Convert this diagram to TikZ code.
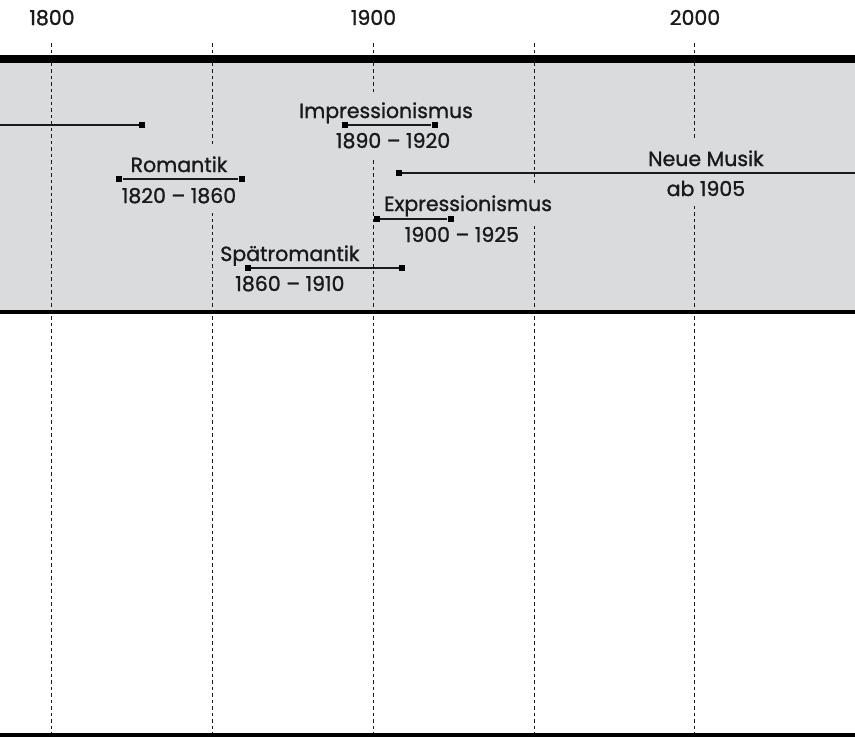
\documentclass[tikz,border=0pt]{standalone}
\usepackage{fontspec}
\setmainfont{Poppins}[UprightFeatures={FakeBold=1.2}]
\definecolor{band}{RGB}{218,219,221}
\definecolor{ink}{RGB}{26,26,26}

\begin{document}
\begin{tikzpicture}[
    x=3.215pt, y=-1pt,
    label/.style={anchor=base, text=ink, inner xsep=5pt, inner ysep=10pt, font=\fontsize{20.5}{25}\selectfont},
    era/.style={label, fill=band},
    grid/.style={draw=ink, line width=1pt, dash pattern=on 3.5pt off 3pt},
    endmark/.style={fill=black, minimum size=6pt, inner sep=0pt},
    span/.style={draw=ink, line width=1.3pt}
]
\useasboundingbox (-16.17,0) rectangle (249.77,736);

% band and rules
\fill[band] (-16.17,63) rectangle (249.77,311);

\node[label] (y1800) at (0,25) {1800};
\node[label] (y1900) at (100,25) {1900};
\node[label] (y2000) at (200,25) {2000};

\coordinate (g1800) at (0,43);
\coordinate (g1850) at (50,43);
\coordinate (g1900) at (100,43);
\coordinate (g1950) at (150,43);
\coordinate (g2000) at (200,43);

\draw[grid] (g1800) -- ++(0,700);
\draw[grid] (g1850) -- ++(0,700);
\draw[grid] (g1900) -- ++(0,700);
\draw[grid] (g1950) -- ++(0,700);
\draw[grid] (g2000) -- ++(0,700);

\draw[line width=8pt] (-17,59) -- (251,59);
\draw[line width=3.5pt] (-17,311.8) -- (251,311.8);
\draw[line width=7pt] (-17,736) -- (251,736);

% era labels
\node[era] (roman) at (39.5,172) {Romantik};
\node[era] (romand) at (39.5,203) {1820 -- 1860};

\node[era] (impr) at (103.9,118) {Impressionismus};
\node[era] (imprd) at (106.1,148) {1890 -- 1920};

\node[era] (expr) at (129.4,211) {Expressionismus};
\node[era] (exprd) at (127.5,242) {1900 -- 1925};

\node[era] (spaet) at (74,261) {Spätromantik};
\node[era] (spaetd) at (74,291) {1860 -- 1910};

\node[era] (neue) at (203.4,166) {Neue Musik};
\node[era] (neued) at (203.4,196) {ab 1905};

% era spans
\coordinate (klassik1) at (-16.17,125);
\node[endmark, anchor=east] (klassik2) at (29,125) {};
\draw[span] (klassik1) -- (klassik2);

\node[endmark, anchor=west] (rom1) at (20,179) {};
\node[endmark, anchor=east] (rom2) at (60,179) {};
\draw[span] (rom1) -- (rom2);

\node[endmark, anchor=west] (imp1) at (90,125) {};
\node[endmark, anchor=east] (imp2) at (120,125) {};
\draw[span] (imp1) -- (imp2);

\node[endmark, anchor=west] (exp1) at (100,219) {};
\node[endmark, anchor=east] (exp2) at (125,219) {};
\draw[span] (exp1) -- (exp2);

\node[endmark, anchor=west] (spa1) at (60,268) {};
\node[endmark, anchor=east] (spa2) at (110,268) {};
\draw[span] (spa1) -- (spa2);

\node[endmark, anchor=west] (neu1) at (106.8,173) {};
\coordinate (neu2) at (249.77,173);
\draw[span] (neu1) -- (neu2);
\end{tikzpicture}
\end{document}
